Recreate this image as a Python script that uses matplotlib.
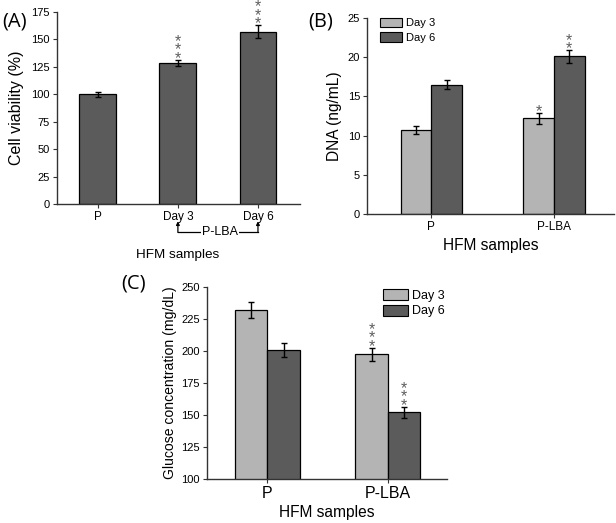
import numpy as np
import matplotlib
matplotlib.use("Agg")
import matplotlib.pyplot as plt
from matplotlib.patches import Patch
from matplotlib.transforms import blended_transform_factory

plt.rcParams['font.family'] = ['Liberation Sans', 'DejaVu Sans']

# Panel A: cell viability
a_labels = ["P", "Day 3", "Day 6"]
a_values = [100, 128.7, 157]
a_errors = [2.4, 3.0, 6.0]
a_stars = [0, 3, 3]

# Panel B: DNA
b_groups = ["P", "P-LBA"]
b_day3 = [10.7, 12.2]
b_day3_err = [0.5, 0.7]
b_day6 = [16.5, 20.1]
b_day6_err = [0.6, 0.8]
b_day3_stars = [0, 1]
b_day6_stars = [0, 2]

# Panel C: glucose
c_groups = ["P", "P-LBA"]
c_day3 = [232, 197.5]
c_day3_err = [6, 5]
c_day6 = [201, 152]
c_day6_err = [5.5, 4.5]
c_day3_stars = [0, 3]
c_day6_stars = [0, 3]

light = "#b4b4b4"
dark = "#5b5b5b"
axcol = "#333333"
starcol = "#5e5e5e"

fig = plt.figure(figsize=(6.16, 5.23), dpi=100)
W, H = 616, 523


def add_ax(x0, x1, ytop, ybot):
    return fig.add_axes([x0 / W, 1 - ybot / H, (x1 - x0) / W, (ybot - ytop) / H])


def style(ax):
    for s in ["top", "right"]:
        ax.spines[s].set_visible(False)
    for s in ["left", "bottom"]:
        ax.spines[s].set_color(axcol)
        ax.spines[s].set_linewidth(1.0)
    ax.tick_params(direction="out", length=3, width=0.8, color=axcol, labelsize=8, pad=2)


def stars(ax, x, y, n):
    # asterisks stacked vertically just above the error bar
    if n == 0:
        return
    fs = 11.5
    base_px = 6 - 0.58 * fs / 0.72
    ax.annotate("\n".join(["*"] * n), xy=(x, y), xytext=(0, base_px * 0.72),
                textcoords="offset points", ha="center", va="baseline", fontsize=fs,
                linespacing=0.46, color=starcol, annotation_clip=False)


# ---------- (A) ----------
ax = add_ax(57, 300, 12, 204)
style(ax)
xa = np.arange(len(a_labels))
ax.bar(xa, a_values, width=0.46, color=dark, edgecolor="black", linewidth=0.9,
       yerr=a_errors, capsize=2.5, error_kw=dict(elinewidth=1, capthick=1, ecolor="black"))
for i in range(len(xa)):
    stars(ax, xa[i], a_values[i] + a_errors[i], a_stars[i])
ax.set_xlim(-0.51, 2.525)
ax.set_ylim(0, 175)
ax.set_yticks(np.arange(0, 176, 25))
ax.set_xticks(xa)
ax.set_xticklabels(a_labels, fontsize=8.5)
ax.set_ylabel("Cell viability (%)", fontsize=11.5, labelpad=5)
trans = blended_transform_factory(ax.transData, ax.transAxes)
ax.plot([1, 2], [-0.146, -0.146], color="black", lw=0.9, transform=trans, clip_on=False)
for xx in [1, 2]:
    ax.annotate("", xy=(xx, -0.09), xytext=(xx, -0.148), xycoords=trans, textcoords=trans,
                arrowprops=dict(arrowstyle="-|>", lw=0.9, color="black", mutation_scale=5,
                                shrinkA=0, shrinkB=0))
ax.text(1.525, -0.146, "P-LBA", transform=trans, ha="center", va="center", fontsize=9,
        bbox=dict(facecolor="white", edgecolor="none", pad=1))
ax.text(1.0, -0.266, "HFM samples", transform=trans, ha="center", va="center", fontsize=9.7)

# ---------- (B) ----------
ax = add_ax(367, 614, 18, 214)
style(ax)
xb = np.arange(len(b_groups))
w = 0.25
ax.bar(xb - w / 2, b_day3, width=w, color=light, edgecolor="black", linewidth=0.9,
       yerr=b_day3_err, capsize=2.5, error_kw=dict(elinewidth=1, capthick=1, ecolor="black"))
ax.bar(xb + w / 2, b_day6, width=w, color=dark, edgecolor="black", linewidth=0.9,
       yerr=b_day6_err, capsize=2.5, error_kw=dict(elinewidth=1, capthick=1, ecolor="black"))
for i in range(len(xb)):
    stars(ax, xb[i] - w / 2, b_day3[i] + b_day3_err[i], b_day3_stars[i])
    stars(ax, xb[i] + w / 2, b_day6[i] + b_day6_err[i], b_day6_stars[i])
ax.set_xlim(-0.525, 1.49)
ax.set_ylim(0, 25)
ax.set_yticks(np.arange(0, 26, 5))
ax.set_xticks(xb)
ax.set_xticklabels(b_groups, fontsize=8.5)
ax.set_ylabel("DNA (ng/mL)", fontsize=11.2, labelpad=4)
ax.set_xlabel("HFM samples", fontsize=11.2, labelpad=4)
handles_b = [Patch(facecolor=light, edgecolor="black", linewidth=0.8, label="Day 3"),
             Patch(facecolor=dark, edgecolor="black", linewidth=0.8, label="Day 6")]
ax.legend(handles=handles_b, loc="upper left", bbox_to_anchor=(0.053, 1.0), frameon=False,
          fontsize=8, handlelength=2.0, handleheight=0.9, handletextpad=0.3, labelspacing=0.36,
          borderaxespad=0, borderpad=0)

# ---------- (C) ----------
ax = add_ax(207, 447, 287, 479)
style(ax)
xc = np.arange(len(c_groups))
w = 0.27
ax.bar(xc - w / 2, c_day3, width=w, color=light, edgecolor="black", linewidth=0.9,
       yerr=c_day3_err, capsize=2.5, error_kw=dict(elinewidth=1, capthick=1, ecolor="black"))
ax.bar(xc + w / 2, c_day6, width=w, color=dark, edgecolor="black", linewidth=0.9,
       yerr=c_day6_err, capsize=2.5, error_kw=dict(elinewidth=1, capthick=1, ecolor="black"))
for i in range(len(xc)):
    stars(ax, xc[i] - w / 2, c_day3[i] + c_day3_err[i], c_day3_stars[i])
    stars(ax, xc[i] + w / 2, c_day6[i] + c_day6_err[i], c_day6_stars[i])
ax.set_xlim(-0.5, 1.49)
ax.set_ylim(100, 250)
ax.set_yticks(np.arange(100, 251, 25))
ax.set_xticks(xc)
ax.set_xticklabels(c_groups, fontsize=11.5)
ax.set_ylabel("Glucose concentration (mg/dL)", fontsize=10.1, labelpad=3)
ax.set_xlabel("HFM samples", fontsize=11.2, labelpad=3)
handles_c = [Patch(facecolor=light, edgecolor="black", linewidth=0.8, label="Day 3"),
             Patch(facecolor=dark, edgecolor="black", linewidth=0.8, label="Day 6")]
ax.legend(handles=handles_c, loc="upper left", bbox_to_anchor=(0.733, 0.99), frameon=False,
          fontsize=9, handlelength=2.0, handleheight=0.96, handletextpad=0.3, labelspacing=0.25,
          borderaxespad=0, borderpad=0)

# panel labels
for lab, x, y in [("(A)", 2, 21), ("(B)", 308, 21), ("(C)", 121, 283)]:
    fig.text(x / W, 1 - y / H, lab, fontsize=14.5, family="Open Sans", va="center", ha="left")

fig.savefig("out.png", dpi=100)
